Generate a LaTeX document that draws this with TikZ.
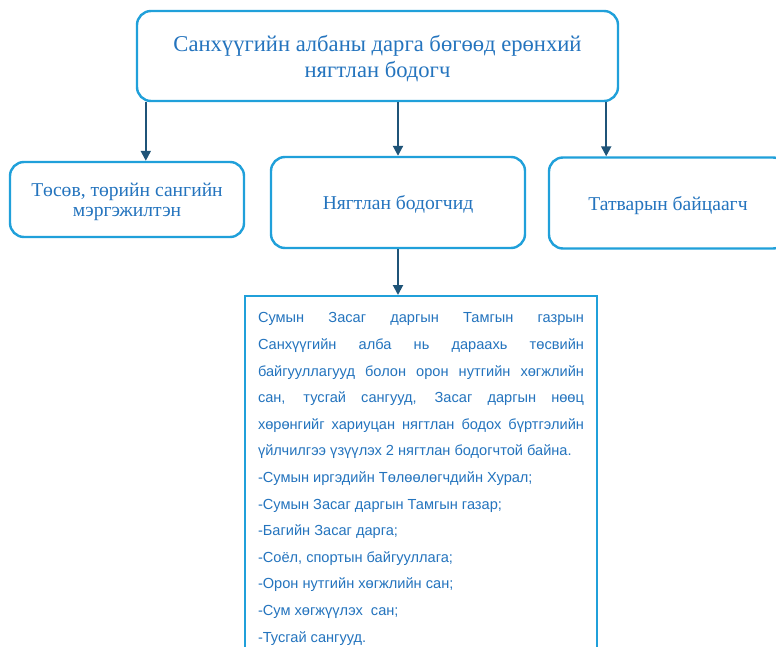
\documentclass[tikz,border=0pt]{standalone}
\usepackage{fontspec}
\setmainfont{Liberation Serif}
\newfontfamily\arialfont{Liberation Sans}
\usetikzlibrary{arrows.meta}
\definecolor{boxblue}{RGB}{32,160,218}
\definecolor{txtblue}{RGB}{36,116,190}
\definecolor{arrowblue}{RGB}{31,84,120}
\hyphenpenalty=10000
\begin{document}
\begin{tikzpicture}[x=0.5pt,y=-0.5pt,
  box/.style={draw=boxblue,line width=1.2pt,rounded corners=7pt,fill=white,text=txtblue,align=center,inner sep=0pt,text depth=0pt,font=\fontsize{9.8}{10}\selectfont},
  listbox/.style={draw=boxblue,line width=1.2pt,fill=white,text=txtblue,align=justify,text width=163pt,inner xsep=6.5pt,inner ysep=4pt,font=\arialfont\fontsize{7.3}{13.3}\selectfont},
  arr/.style={draw=arrowblue,line width=1pt,-{Triangle[width=5pt,length=5pt]}}]
\clip (0,0) rectangle (776,647);
\fill[white] (0,0) rectangle (776,647);
\node[box,minimum width=240.5pt,minimum height=45pt,font=\fontsize{11.3}{13}\selectfont] (head) at (377.5,56) {Санхүүгийн албаны дарга бөгөөд ерөнхий\\нягтлан бодогч};
\node[box,minimum width=117pt,minimum height=37.5pt] (tosov) at (127,199.5) {Төсөв, төрийн сангийн\\мэргэжилтэн};
\node[box,minimum width=127pt,minimum height=45.5pt] (nyag) at (398,202.5) {Нягтлан бодогчид};
\node[box,minimum width=119pt,minimum height=45.5pt] (tatvar) at (668,203) {Татварын байцаагч};
\node[listbox,anchor=north] (sum) at (421,295) {\strut Сумын Засаг даргын Тамгын газрын\linebreak
Санхүүгийн алба нь дараахь төсвийн\linebreak
байгууллагууд болон орон нутгийн хөгжлийн\linebreak
сан, тусгай сангууд, Засаг даргын нөөц\linebreak
хөрөнгийг хариуцан нягтлан бодох бүртгэлийн\linebreak
үйлчилгээ үзүүлэх 2 нягтлан бодогчтой байна.\par
-Сумын иргэдийн Төлөөлөгчдийн Хурал;\par
-Сумын Засаг даргын Тамгын газар;\par
-Багийн Засаг дарга;\par
-Соёл, спортын байгууллага;\par
-Орон нутгийн хөгжлийн сан;\par
-Сум хөгжүүлэх~ сан;\par
-Тусгай сангууд.\strut};
\draw[arr] ([xshift=5pt]head.south west) -- ([xshift=5pt]head.south west |- tosov.north);
\draw[arr] (head.south -| nyag.north) -- (nyag.north);
\draw[arr] ([xshift=-6.5pt]head.south east) -- ([xshift=-6.5pt]head.south east |- tatvar.north);
\draw[arr] (nyag.south) -- (nyag.south |- sum.north);
\end{tikzpicture}
\end{document}
